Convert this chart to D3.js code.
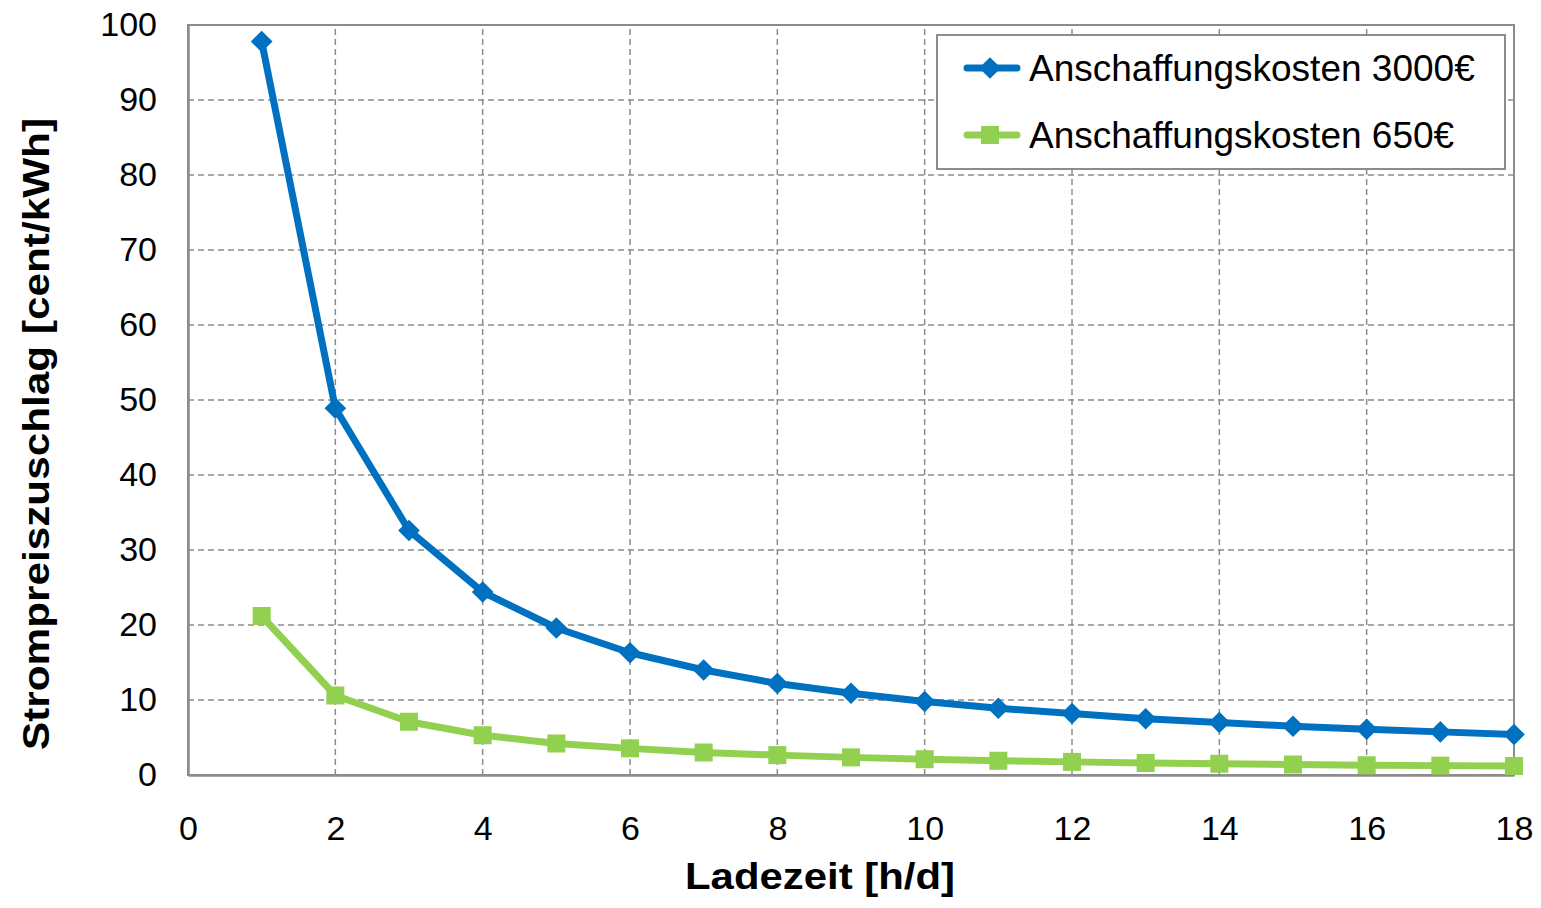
<!DOCTYPE html>
<html>
<head>
<meta charset="utf-8">
<script src="https://cdn.jsdelivr.net/npm/d3@7"></script>
<style>
  body { margin: 0; background: #fff; }
  svg { font-family: "Liberation Sans", Arial, sans-serif; }
</style>
</head>
<body>
<div id="chart"></div>
<script>
const ladezeit = [1, 2, 3, 4, 5, 6, 7, 8, 9, 10, 11, 12, 13, 14, 15, 16, 17, 18];
const kosten3000 = [97.8, 48.9, 32.6, 24.4, 19.6, 16.3, 14.0, 12.2, 10.9, 9.8, 8.9, 8.2, 7.5, 7.0, 6.5, 6.1, 5.75, 5.4];
const kosten650 = [21.2, 10.6, 7.1, 5.3, 4.2, 3.55, 3.0, 2.65, 2.35, 2.1, 1.9, 1.75, 1.6, 1.5, 1.4, 1.3, 1.25, 1.2];
const xTicks = [0, 2, 4, 6, 8, 10, 12, 14, 16, 18];
const yTicks = [0, 10, 20, 30, 40, 50, 60, 70, 80, 90, 100];
const seriesNames = ["Anschaffungskosten 3000€", "Anschaffungskosten 650€"];

const width = 1541, height = 908;
const margin = { left: 188, right: 27, top: 25, bottom: 133 };

const svg = d3.select("#chart").append("svg")
    .attr("width", width)
    .attr("height", height);

const x = d3.scaleLinear().domain([0, 18]).range([margin.left, width - margin.right]);
const y = d3.scaleLinear().domain([0, 100]).range([height - margin.bottom, margin.top]);

// grid
svg.append("g")
    .selectAll("line")
    .data(yTicks.slice(1, -1))
    .enter().append("line")
    .attr("x1", x(0)).attr("x2", x(18))
    .attr("y1", d => y(d)).attr("y2", d => y(d))
    .attr("stroke", "#8c8c8c").attr("stroke-width", 1.5)
    .attr("stroke-dasharray", "6,4");

svg.append("g")
    .selectAll("line")
    .data(xTicks.slice(1, -1))
    .enter().append("line")
    .attr("x1", d => x(d)).attr("x2", d => x(d))
    .attr("y1", y(0)).attr("y2", y(100))
    .attr("stroke", "#8c8c8c").attr("stroke-width", 1.5)
    .attr("stroke-dasharray", "6,4");

// frame
svg.append("rect")
    .attr("x", x(0)).attr("y", y(100))
    .attr("width", x(18) - x(0)).attr("height", y(0) - y(100))
    .attr("fill", "none")
    .attr("stroke", "#8c8c8c").attr("stroke-width", 2);

// axes
const xAxis = svg.append("g")
    .attr("transform", `translate(0,${y(0)})`)
    .call(d3.axisBottom(x).tickValues(xTicks).tickSize(0).tickPadding(41));
xAxis.select(".domain").attr("stroke", "#8c8c8c").attr("stroke-width", 2.5);
xAxis.selectAll("text").attr("font-size", 34).attr("fill", "#000")
    .attr("font-family", "Liberation Sans, Arial, sans-serif");

const yAxis = svg.append("g")
    .attr("transform", `translate(${x(0)},0)`)
    .call(d3.axisLeft(y).tickValues(yTicks).tickSize(0).tickPadding(31));
yAxis.select(".domain").attr("stroke", "#8c8c8c").attr("stroke-width", 2.5);
yAxis.selectAll("text").attr("font-size", 34).attr("fill", "#000")
    .attr("font-family", "Liberation Sans, Arial, sans-serif");

svg.append("text")
    .attr("x", 820)
    .attr("y", 889)
    .attr("text-anchor", "middle")
    .attr("font-size", 37).attr("font-weight", "bold")
    .attr("textLength", 270).attr("lengthAdjust", "spacingAndGlyphs")
    .text("Ladezeit [h/d]");

svg.append("text")
    .attr("transform", `translate(49,434) rotate(-90)`)
    .attr("text-anchor", "middle")
    .attr("font-size", 37).attr("font-weight", "bold")
    .attr("textLength", 632).attr("lengthAdjust", "spacingAndGlyphs")
    .text("Strompreiszuschlag [cent/kWh]");

// series
const line = d3.line().x(d => x(d[0])).y(d => y(d[1]));
const blue = "#0070c0", green = "#92d050";

const s650 = ladezeit.map((t, i) => [t, kosten650[i]]);
const s3000 = ladezeit.map((t, i) => [t, kosten3000[i]]);

svg.append("path").datum(s650)
    .attr("d", line).attr("fill", "none")
    .attr("stroke", green).attr("stroke-width", 7).attr("stroke-linejoin", "round");
svg.append("g").selectAll("rect").data(s650).enter().append("rect")
    .attr("x", d => x(d[0]) - 9).attr("y", d => y(d[1]) - 9)
    .attr("width", 18).attr("height", 18).attr("fill", green);

svg.append("path").datum(s3000)
    .attr("d", line).attr("fill", "none")
    .attr("stroke", blue).attr("stroke-width", 7).attr("stroke-linejoin", "round");
const diamond = d3.symbol().type(d3.symbolDiamond2).size(300);
svg.append("g").selectAll("path").data(s3000).enter().append("path")
    .attr("d", diamond)
    .attr("transform", d => `translate(${x(d[0])},${y(d[1])})`)
    .attr("fill", blue);

// legend
const legend = svg.append("g");
legend.append("rect")
    .attr("x", 937).attr("y", 35).attr("width", 568).attr("height", 134)
    .attr("fill", "#fff").attr("stroke", "#8c8c8c").attr("stroke-width", 2);

const legendItems = [
    { name: seriesNames[0], color: blue, shape: "diamond", yPos: 68 },
    { name: seriesNames[1], color: green, shape: "square", yPos: 135 }
];
legendItems.forEach(item => {
    legend.append("line")
        .attr("x1", 967).attr("x2", 1017)
        .attr("y1", item.yPos).attr("y2", item.yPos)
        .attr("stroke", item.color).attr("stroke-width", 7).attr("stroke-linecap", "round");
    if (item.shape === "diamond") {
        legend.append("path").attr("d", diamond)
            .attr("transform", `translate(990,${item.yPos})`).attr("fill", item.color);
    } else {
        legend.append("rect").attr("x", 981).attr("y", item.yPos - 9)
            .attr("width", 18).attr("height", 18).attr("fill", item.color);
    }
    legend.append("text")
        .attr("x", 1029).attr("y", item.yPos + 12.5)
        .attr("font-size", 37)
        .text(item.name);
});
</script>
</body>
</html>
